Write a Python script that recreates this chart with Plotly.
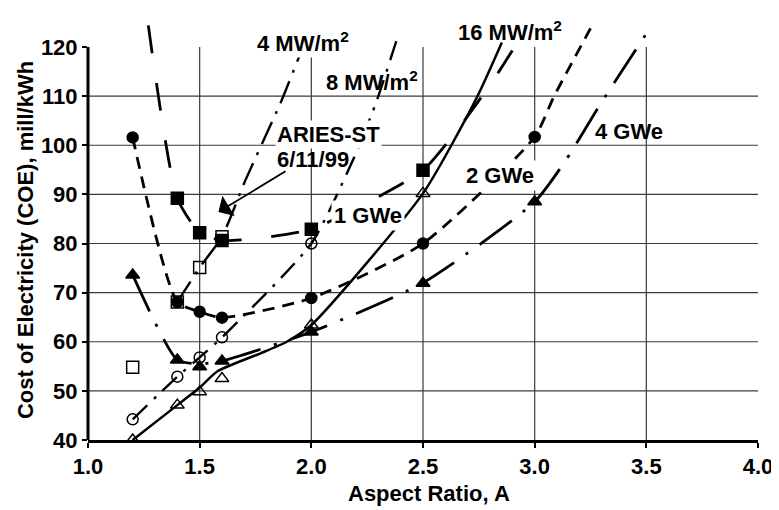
import plotly.graph_objects as go

# ---------------- data ----------------
aspect = [1.2, 1.4, 1.5, 1.6, 2.0, 2.5, 3.0]

# filled squares : 1 GWe
gwe1_x = [1.4, 1.5, 1.6, 2.0, 2.5]
gwe1_y = [89.2, 82.2, 80.6, 82.9, 94.9]
gwe1_cx = [1.27, 1.4, 1.5, 1.6, 1.75, 2.0, 2.3, 2.5, 2.67, 2.82, 2.9]
gwe1_cy = [124.4, 89.2, 82.2, 80.6, 81.0, 82.9, 89.5, 94.9, 104.1, 113.6, 119.3]

# filled circles : 2 GWe
gwe2_y = [101.6, 68.1, 66.1, 64.9, 68.9, 80.0, 101.7]
gwe2_cx = [1.2, 1.4, 1.5, 1.6, 2.0, 2.5, 3.0, 3.085, 3.25]
gwe2_cy = [101.6, 68.1, 66.1, 64.9, 68.9, 80.0, 101.7, 109.8, 123.8]

# filled triangles : 4 GWe
gwe4_y = [73.6, 56.3, 54.9, 56.1, 62.0, 71.9, 88.5]
gwe4_cx = [1.2, 1.4, 1.5, 1.6, 2.0, 2.5, 3.0, 3.14, 3.3, 3.53]
gwe4_cy = [73.6, 56.3, 55.5, 56.1, 62.0, 72.0, 88.5, 97.0, 108.8, 124.8]

# open squares : 4 MW/m2
mw4_x = [1.2, 1.4, 1.5, 1.6]
mw4_y = [54.8, 68.1, 75.1, 81.4]
mw4_cx = [1.4, 1.5, 1.6, 1.705, 1.861, 1.945]
mw4_cy = [68.1, 75.1, 81.4, 92.9, 108.5, 118.0]

# open circles : 8 MW/m2
mw8_x = [1.2, 1.4, 1.5, 1.6, 2.0]
mw8_y = [44.2, 52.9, 56.8, 60.9, 80.0]
mw8_cx = [1.2, 1.4, 1.5, 1.6, 2.0, 2.2, 2.294, 2.384]
mw8_cy = [44.2, 52.9, 56.8, 60.9, 80.0, 98.4, 109.2, 121.7]

# open triangles : 16 MW/m2
mw16_x = [1.2, 1.4, 1.5, 1.6, 2.0, 2.5]
mw16_y = [40.0, 47.1, 49.8, 52.5, 63.4, 90.2]
mw16_cx = [1.2, 1.4, 1.5, 1.58, 1.77, 1.89, 2.0, 2.5, 2.742, 2.853]
mw16_cy = [40.0, 47.1, 50.7, 54.0, 57.6, 60.0, 63.4, 90.2, 109.8, 120.9]

x_ticks = [1.0, 1.5, 2.0, 2.5, 3.0, 3.5, 4.0]
x_ticktext = ["1.0", "1.5", "2.0", "2.5", "3.0", "3.5", "4.0"]
y_ticks = [40, 50, 60, 70, 80, 90, 100, 110, 120]
x_grid = [1.5, 2.0, 2.5, 3.0, 3.5]
y_grid = [50, 60, 70, 80, 90, 100, 110]

FONT = "Liberation Sans, Arial, sans-serif"

fig = go.Figure()


def curve(x, y, dash, width=2.6):
    fig.add_trace(go.Scatter(x=x, y=y, mode="lines", hoverinfo="skip",
                             line=dict(color="black", width=width, dash=dash,
                                       shape="spline", smoothing=0.6)))


def marks(x, y, symbol, size, lw=1.5):
    fig.add_trace(go.Scatter(x=x, y=y, mode="markers",
                             marker=dict(symbol=symbol, size=size, color="black",
                                         line=dict(color="black", width=lw))))


# 4 MW/m2 (open squares)
curve(mw4_cx, mw4_cy, "24px,9px,3px,9px", 2.4)
marks(mw4_x, mw4_y, "square-open", 12)
# 8 MW/m2 (open circles)
curve(mw8_cx, mw8_cy, "20px,9px,3px,9px", 2.4)
marks(mw8_x, mw8_y, "circle-open", 11)
# 16 MW/m2 (open triangles)
curve(mw16_cx, mw16_cy, "solid", 2.5)
marks(mw16_x, mw16_y, "triangle-up-open", 12)
# 1 GWe (filled squares)
curve(gwe1_cx, gwe1_cy, "28px,30px", 2.8)
marks(gwe1_x, gwe1_y, "square", 12)
# 2 GWe (filled circles)
curve(gwe2_cx, gwe2_cy, "12px,8px", 2.8)
marks(aspect, gwe2_y, "circle", 11)
# 4 GWe (filled triangles)
curve(gwe4_cx, gwe4_cy, "40px,14px,3px,14px", 2.8)
marks(aspect, gwe4_y, "triangle-up", 12)

shapes = []
for v in x_grid:
    shapes.append(dict(type="line", xref="x", yref="y", x0=v, x1=v, y0=40, y1=120,
                       line=dict(color="#3a3a3a", width=1.2), layer="below"))
for h in y_grid:
    shapes.append(dict(type="line", xref="x", yref="y", x0=1, x1=4, y0=h, y1=h,
                       line=dict(color="#3a3a3a", width=1.2), layer="below"))
shapes.append(dict(type="line", xref="paper", yref="y", x0=0, x1=0, y0=40, y1=120,
                   line=dict(color="black", width=3)))

lab = dict(family=FONT, size=22, color="black", weight="bold")
tickf = dict(family=FONT, size=22, color="black", weight="bold")
ann = []


def text(x, y, s, bg=None, pad=1, xanchor="center"):
    d = dict(x=x, y=y, xref="x", yref="y", text="<b>" + s + "</b>", showarrow=False,
             font=lab, xanchor=xanchor, yanchor="middle", borderpad=pad)
    if bg:
        d["bgcolor"] = bg
    ann.append(d)


text(1.961, 121.0, "4 MW/m<sup>2</sup>", bg="white", pad=1)
text(2.273, 113.0, "8 MW/m<sup>2</sup>")
text(2.891, 123.2, "16 MW/m<sup>2</sup>")
text(1.839, 102.2, "ARIES-ST", bg="white", pad=1, xanchor="left")
text(1.839, 97.2, "6/11/99", xanchor="left")
text(2.253, 85.8, "1 GWe", bg="white", pad=2)
text(2.844, 93.9, "2 GWe", bg="white", pad=2)
text(3.421, 102.8, "4 GWe")

ann.append(dict(x=1.584, y=86.4, ax=1.891, ay=94.9, xref="x", yref="y",
                axref="x", ayref="y", text="", showarrow=True, arrowhead=1,
                arrowsize=2.2, arrowwidth=1.8, arrowcolor="black", standoff=0))

ann.append(dict(x=0, y=80.7, xref="paper", yref="y", xshift=-63, textangle=-90,
                text="<b>Cost of Electricity (COE), mill/kWh</b>", showarrow=False,
                font=lab, xanchor="center", yanchor="middle"))
ann.append(dict(x=2.528, y=0, xref="x", yref="paper", yshift=-53,
                text="<b>Aspect Ratio, A</b>", showarrow=False, font=lab,
                xanchor="center", yanchor="middle"))

# the page adds an 8px body margin, so the figure is 8px smaller than the window
fig.update_layout(
    width=771, height=502,
    margin=dict(l=80, r=21, t=12, b=70, autoexpand=False),
    paper_bgcolor="white", plot_bgcolor="white",
    showlegend=False,
    shapes=shapes, annotations=ann,
    xaxis=dict(range=[1, 4], tickvals=x_ticks, ticktext=x_ticktext,
               showgrid=False, zeroline=False, showline=True, linewidth=3,
               linecolor="black", ticks="outside", ticklen=5, tickwidth=2,
               tickcolor="black", tickfont=tickf, automargin=False),
    yaxis=dict(range=[40, 125.5], tickvals=y_ticks, showgrid=False, zeroline=False,
               showline=False, ticks="outside", ticklen=5, tickwidth=2,
               tickcolor="black", tickfont=tickf, automargin=False),
)

fig.write_html("out.html")
